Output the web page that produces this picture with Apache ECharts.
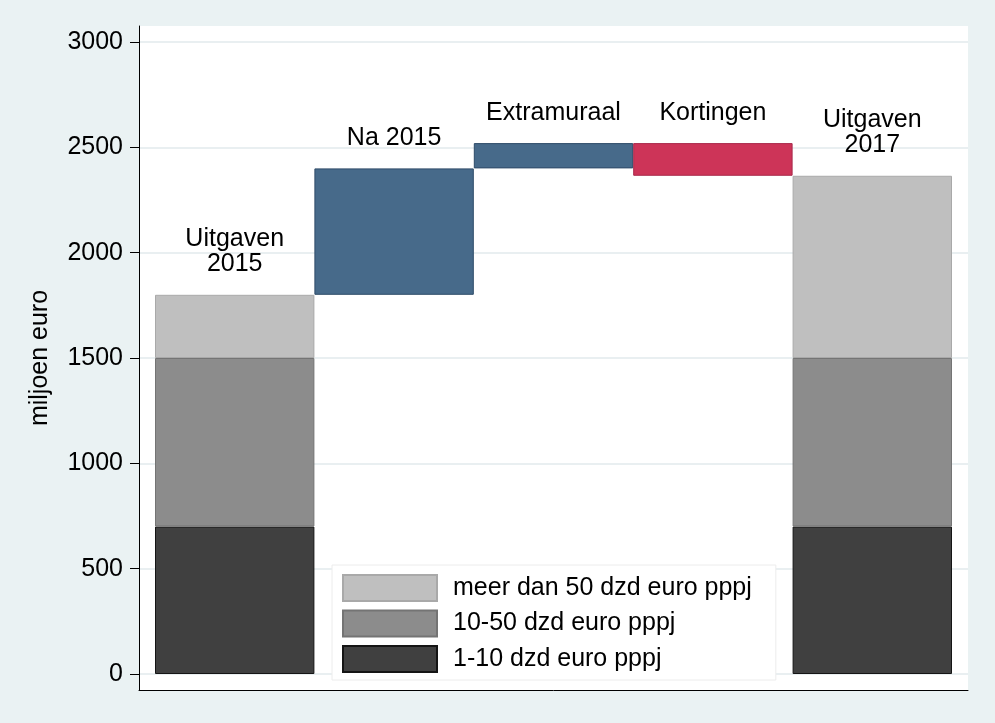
<!DOCTYPE html>
<html>
<head>
<meta charset="utf-8">
<script src="https://cdn.jsdelivr.net/npm/echarts@6/dist/echarts.min.js"></script>
<style>
html,body{margin:0;padding:0;background:#eaf2f3;}
#chart{width:995px;height:723px;}
</style>
</head>
<body>
<div id="chart"></div>
<script>
// ---- data ----
var categories = ['Uitgaven\n2015', 'Na 2015', 'Extramuraal', 'Kortingen', 'Uitgaven\n2017'];
var baseValues = ['-', 1800, 2400, 2365, '-'];            // invisible offset
var low = [700, '-', '-', '-', 700];                       // 1-10 dzd euro pppj
var mid = [800, '-', '-', '-', 800];                       // 10-50 dzd euro pppj
var high = [300, '-', '-', '-', 865];                      // meer dan 50 dzd euro pppj
var increase = ['-', 600, 120, '-', '-'];                  // toename
var decrease = ['-', '-', '-', 155, '-'];                  // kortingen
var legendNames = ['meer dan 50 dzd euro pppj', '10-50 dzd euro pppj', '1-10 dzd euro pppj'];
var yTicks = [0, 500, 1000, 1500, 2000, 2500, 3000];

var FONT = 'Liberation Sans, Arial, sans-serif';
var FS = 25;

var seriesDefs = [
  {name: 'base', data: baseValues, color: 'rgba(0,0,0,0)', border: 'rgba(0,0,0,0)'},
  {name: legendNames[2], data: low, color: '#404040', border: '#151515'},
  {name: legendNames[1], data: mid, color: '#8c8c8c', border: '#747474'},
  {name: legendNames[0], data: high, color: '#bfbfbf', border: '#a9a9a9'},
  {name: 'toename', data: increase, color: '#476a8a', border: '#2e4b68'},
  {name: 'kortingen', data: decrease, color: '#cd3458', border: '#a8284a'}
];

// find top segment per category to carry the label
var topSeries = categories.map(function (c, i) {
  var top = -1;
  seriesDefs.forEach(function (s, k) { if (k > 0 && s.data[i] !== '-') top = k; });
  return top;
});

var series = seriesDefs.map(function (s, k) {
  return {
    name: s.name,
    type: 'bar',
    stack: 'w',
    xAxisIndex: 2,
    yAxisIndex: 2,
    barCategoryGap: '0%',
    itemStyle: {color: s.color, borderColor: s.border, borderWidth: 1},
    emphasis: {disabled: true},
    silent: true,
    data: s.data.map(function (v, i) {
      if (topSeries[i] === k) {
        return {
          value: v,
          label: {
            show: true, position: 'top', distance: 18,
            formatter: categories[i],
            fontFamily: FONT, fontSize: FS, color: '#000', lineHeight: 25
          }
        };
      }
      return v;
    })
  };
});

var chart = echarts.init(document.getElementById('chart'), null, {renderer: 'canvas'});
chart.setOption({
  animation: false,
  backgroundColor: '#eaf2f3',
  textStyle: {fontFamily: FONT},
  grid: [
    {left: 139, right: 27, top: 26, bottom: 33, show: true, backgroundColor: '#ffffff', borderWidth: 0, z: -1},
    {left: 139, right: 27, top: 42, bottom: 49},
    {left: 155, right: 43, top: 42, bottom: 49}
  ],
  xAxis: [
    {gridIndex: 0, type: 'category', data: categories, position: 'bottom',
     axisLine: {show: true, onZero: false, lineStyle: {color: '#000', width: 1}},
     axisTick: {show: false}, axisLabel: {show: false}, splitLine: {show: false}},
    {gridIndex: 1, type: 'category', data: categories, show: false},
    {gridIndex: 2, type: 'category', data: categories, show: false}
  ],
  yAxis: [
    {gridIndex: 0, type: 'value', min: 0, max: 1,
     axisLine: {show: true, onZero: false, lineStyle: {color: '#000', width: 1}},
     axisTick: {show: false}, axisLabel: {show: false}, splitLine: {show: false}},
    {gridIndex: 1, type: 'value', min: yTicks[0], max: yTicks[yTicks.length - 1], interval: 500,
     name: 'miljoen euro', nameLocation: 'middle', nameGap: 86,
     nameTextStyle: {fontFamily: FONT, fontSize: FS, color: '#000'},
     axisLine: {show: false},
     axisTick: {show: true, length: 9, lineStyle: {color: '#000', width: 1}},
     axisLabel: {fontFamily: FONT, fontSize: FS, color: '#000', margin: 16,
                 formatter: function (v) { return String(v); }},
     splitLine: {show: true, lineStyle: {color: '#e9eff1', width: 2}}},
    {gridIndex: 2, type: 'value', min: yTicks[0], max: yTicks[yTicks.length - 1], interval: 500, show: false,
     splitLine: {show: false}}
  ],
  legend: {
    data: legendNames,
    orient: 'vertical',
    left: 332, top: 565,
    icon: 'rect',
    itemWidth: 94, itemHeight: 26, itemGap: 7.5,
    padding: [9, 24, 7, 10],
    backgroundColor: '#ffffff',
    borderColor: '#ececec', borderWidth: 1,
    selectedMode: false,
    textStyle: {fontFamily: FONT, fontSize: FS, color: '#000', lineHeight: 26, padding: [0, 0, 0, 11]}
  },
  series: series
});
</script>
</body>
</html>
